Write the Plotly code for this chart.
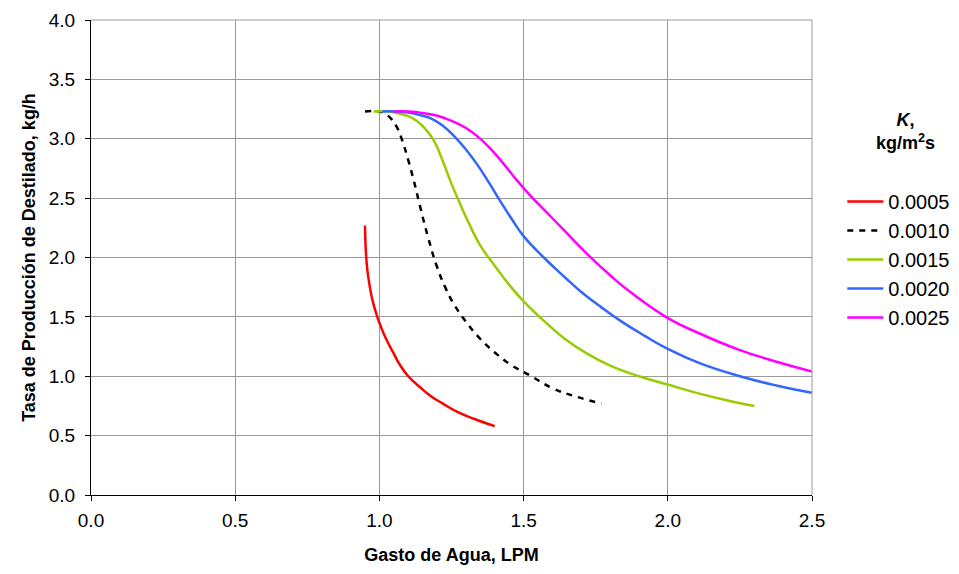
import plotly.graph_objects as go

# Water flow rate (LPM) and distillate production rate (kg/h) for each K value
k_labels = ["0.0005", "0.0010", "0.0015", "0.0020", "0.0025"]

x_k0005 = [0.95, 0.953, 0.958, 0.965, 0.975, 0.99, 1.0, 1.02, 1.05, 1.07, 1.10,
           1.14, 1.18, 1.22, 1.27, 1.33, 1.40]
y_k0005 = [2.27, 2.05, 1.90, 1.78, 1.65, 1.52, 1.45, 1.33, 1.19, 1.10, 1.00,
           0.91, 0.83, 0.77, 0.70, 0.64, 0.58]

x_k0010 = [0.95, 1.00, 1.02, 1.04, 1.06, 1.08, 1.10, 1.12, 1.14, 1.17, 1.20,
           1.23, 1.26, 1.30, 1.34, 1.40, 1.46, 1.52, 1.60, 1.68, 1.77]
y_k0010 = [3.23, 3.23, 3.21, 3.17, 3.10, 2.98, 2.82, 2.64, 2.44, 2.16, 1.92,
           1.74, 1.60, 1.46, 1.34, 1.20, 1.09, 1.01, 0.90, 0.83, 0.77]

x_k0015 = [0.98, 1.03, 1.07, 1.10, 1.13, 1.16, 1.19, 1.22, 1.25, 1.28, 1.31,
           1.35, 1.40, 1.45, 1.50, 1.56, 1.64, 1.72, 1.80, 1.90, 2.00, 2.10,
           2.20, 2.30]
y_k0015 = [3.23, 3.23, 3.21, 3.19, 3.15, 3.08, 2.98, 2.81, 2.62, 2.45, 2.29,
           2.10, 1.93, 1.77, 1.63, 1.49, 1.32, 1.19, 1.09, 1.00, 0.93, 0.86,
           0.80, 0.75]

x_k0020 = [1.01, 1.06, 1.10, 1.14, 1.18, 1.22, 1.26, 1.30, 1.34, 1.38, 1.42,
           1.46, 1.50, 1.57, 1.64, 1.70, 1.77, 1.84, 1.92, 2.00, 2.11, 2.25,
           2.38, 2.50]
y_k0020 = [3.23, 3.23, 3.22, 3.20, 3.17, 3.11, 3.02, 2.91, 2.78, 2.63, 2.47,
           2.32, 2.18, 2.00, 1.84, 1.71, 1.58, 1.46, 1.34, 1.23, 1.11, 1.00,
           0.92, 0.86]

x_k0025 = [1.05, 1.10, 1.14, 1.19, 1.23, 1.27, 1.30, 1.34, 1.38, 1.42, 1.47,
           1.52, 1.58, 1.64, 1.72, 1.80, 1.88, 2.00, 2.11, 2.25, 2.38, 2.50]
y_k0025 = [3.23, 3.23, 3.22, 3.20, 3.17, 3.13, 3.09, 3.02, 2.93, 2.82, 2.67,
           2.53, 2.38, 2.23, 2.03, 1.85, 1.69, 1.49, 1.36, 1.22, 1.12, 1.04]

x_ticks = [0.0, 0.5, 1.0, 1.5, 2.0, 2.5]
y_ticks = [0.0, 0.5, 1.0, 1.5, 2.0, 2.5, 3.0, 3.5, 4.0]

series = [
    (x_k0005, y_k0005, "#FF0000", "solid"),
    (x_k0010, y_k0010, "#000000", "6px,6px"),
    (x_k0015, y_k0015, "#99CC00", "solid"),
    (x_k0020, y_k0020, "#3366FF", "solid"),
    (x_k0025, y_k0025, "#FF00FF", "solid"),
]

FONT = "Liberation Sans, Arial, sans-serif"

fig = go.Figure()
for label, (xs, ys, color, dash) in zip(k_labels, series):
    fig.add_trace(go.Scatter(
        x=xs, y=ys, mode="lines", name=label,
        line=dict(color=color, width=2.5, dash=dash, shape="spline", smoothing=1.3),
    ))

axis_common = dict(
    showgrid=True, gridcolor="#9a9a9a", gridwidth=1,
    zeroline=False, showline=True, linecolor="#000000", linewidth=1,
    ticks="outside", ticklen=5, tickcolor="#000000",
    tickfont=dict(family=FONT, size=19, color="#000000"),
)

fig.update_layout(
    width=959, height=574,
    paper_bgcolor="#ffffff", plot_bgcolor="#ffffff",
    margin=dict(l=91, r=147, t=20, b=79, autoexpand=False),
    font=dict(family=FONT, color="#000000"),
    xaxis=dict(range=[0, 2.5], tickvals=x_ticks, ticktext=[f"{v:.1f}" for v in x_ticks],
               ticklabelstandoff=3,
               title=dict(text="<b>Gasto de Agua, LPM</b>", font=dict(size=18), standoff=18),
               **axis_common),
    yaxis=dict(range=[0, 4.0], tickvals=y_ticks, ticktext=[f"{v:.1f}" for v in y_ticks],
               ticklabelstandoff=6,
               title=dict(text="<b>Tasa de Producción de Destilado, kg/h</b>", font=dict(size=18),
                          standoff=8),
               **axis_common),
    legend=dict(x=1.042, y=0.659, xanchor="left", yanchor="top",
                font=dict(family=FONT, size=20), tracegroupgap=0,
                bgcolor="rgba(0,0,0,0)", itemwidth=36),
    showlegend=True,
)

# Plot frame on the top and right edges
fig.add_shape(type="line", xref="paper", yref="paper", x0=0, x1=1, y0=1, y1=1,
              line=dict(color="#9a9a9a", width=1))
fig.add_shape(type="line", xref="paper", yref="paper", x0=1, x1=1, y0=0, y1=1,
              line=dict(color="#9a9a9a", width=1))

# Legend heading
fig.add_annotation(xref="paper", yref="paper", x=1.13, y=0.765, xanchor="center", yanchor="middle",
                   text="<b><i>K</i>,</b><br><b>kg/m<sup>2</sup>s</b>", showarrow=False,
                   font=dict(family=FONT, size=18), align="center")

fig.write_html("out.html")
